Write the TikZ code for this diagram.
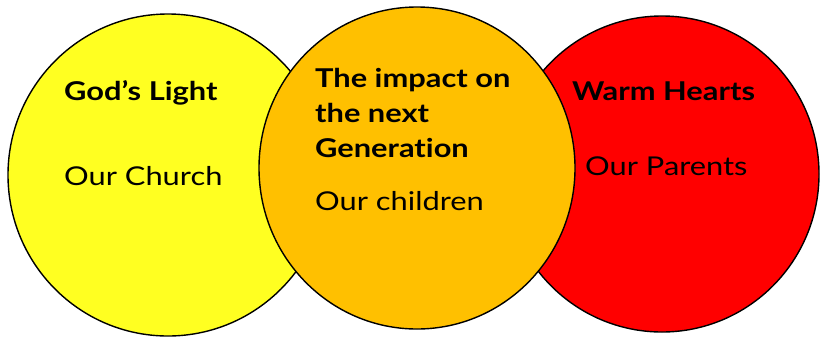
\documentclass[tikz,border=0pt]{standalone}
\usepackage{fontspec}
\setmainfont{Lato}[FakeStretch=1.19,Ligatures=NoCommon]
\definecolor{cyel}{HTML}{FFFF21}
\definecolor{corg}{HTML}{FFC000}
\definecolor{cred}{HTML}{FF0000}
\begin{document}
\begin{tikzpicture}[x=1bp,y=-1bp,
  disc/.style={draw=black,line width=1.4bp},
  head/.style={anchor=base west,inner sep=0pt,font=\fontsize{26}{35}\selectfont\bfseries},
  sub/.style={anchor=base west,inner sep=0pt,font=\fontsize{26}{35}\selectfont}]
\useasboundingbox (0,0) rectangle (820,337);
\fill[white] (0,0) rectangle (820,337);
\path[disc,fill=cyel] (168,175) ellipse [x radius=160,y radius=161];
\path[disc,fill=cred] (662,174) ellipse [x radius=157,y radius=158];
\path[disc,fill=corg] (417,168) ellipse [x radius=158,y radius=161];
\node[head] (gl) at (64,100) {God’s Light};
\node[sub] (oc) at (64,185) {Our Church};
\node[head] (im1) at (315,87) {The impact on};
\node[head] (im2) at (315,122) {the next};
\node[head] (im3) at (315,157) {Generation};
\node[sub] (ochi) at (315,210) {Our children};
\node[head] (wh) at (572,100) {Warm Hearts};
\node[sub] (op) at (585,175) {Our Parents};
\end{tikzpicture}
\end{document}
